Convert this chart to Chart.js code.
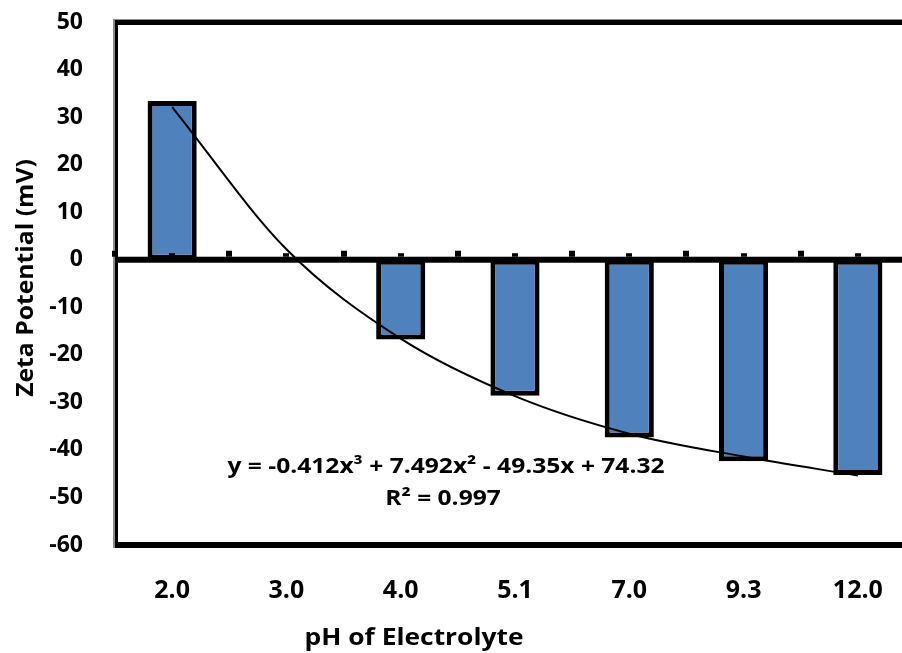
<!DOCTYPE html>
<html><head><meta charset="utf-8">
<script src="https://cdn.jsdelivr.net/npm/chart.js@4.4.1/dist/chart.umd.min.js"></script>
<style>
html,body{margin:0;padding:0;background:#fff;overflow:hidden;width:902px;height:653px;}
#wrap{position:absolute;left:0;top:0;width:916px;height:653px;}
</style></head><body>
<div id="wrap"><canvas id="c"></canvas></div>
<script>
const categories = ['2.0', '3.0', '4.0', '5.1', '7.0', '9.3', '12.0'];
const zetaValues = [33.4, 0, -16.8, -28.6, -37.4, -42.4, -45.3];
const trendValues = [32.1, 2.2, -16.6, -28.7, -36.6, -41.4, -45.4];
const yTicks = [-60, -50, -40, -30, -20, -10, 0, 10, 20, 30, 40, 50];
const yAxisTitle = 'Zeta Potential (mV)';
const xAxisTitle = 'pH of Electrolyte';
const equationLines = ['y = -0.412x³ + 7.492x² - 49.35x + 74.32', 'R² = 0.997'];

const FONT = '"Open Sans", Lato, sans-serif';

function stretchText(ctx, text, x, y, sx, rot) {
  ctx.save();
  ctx.translate(x, y);
  if (rot) ctx.rotate(rot);
  ctx.scale(sx, 1);
  ctx.fillText(text, 0, 0);
  ctx.restore();
}

const decor = {
  id: 'decor',
  afterDatasetsDraw(chart) {
    const { ctx, chartArea: a, scales: { x, y } } = chart;
    ctx.save();
    const W = a.right - a.left;
    // frame: left axis (gray + black), top line, bottom axis
    ctx.fillStyle = '#8c8c8c';
    ctx.fillRect(a.left - 2, a.top - 3, 2, a.bottom - a.top + 6);
    ctx.fillRect(a.left, a.top - 3, W, 1);
    ctx.fillStyle = '#000';
    ctx.fillRect(a.left, a.top - 2, 3, a.bottom - a.top + 5);
    ctx.fillRect(a.left, a.top - 2, W, 5);
    ctx.fillRect(a.left, a.bottom - 3, W, 6);
    // zero line with tick marks
    const y0 = y.getPixelForValue(0);
    ctx.fillRect(a.left, y0 - 3, W, 6);
    const step = x.getPixelForValue(1) - x.getPixelForValue(0);
    for (let i = 0; i <= categories.length * 2; i++) {
      const px = a.left + i * step / 2;
      const h = (i % 2 === 0) ? 6 : 3.5;
      ctx.fillRect(Math.round(px - 3), y0 - 3 - h, 6, h);
    }
    // titles
    ctx.fillStyle = '#000';
    ctx.textAlign = 'center';
    ctx.textBaseline = 'middle';
    ctx.font = 'bold 24px ' + FONT;
    stretchText(ctx, xAxisTitle, 414, 638, 1.1, 0);
    stretchText(ctx, yAxisTitle, 26, 278, 1.03, -Math.PI / 2);
    // trendline equation
    ctx.font = 'bold 21px ' + FONT;
    stretchText(ctx, equationLines[0], 446, 467, 1.17, 0);
    stretchText(ctx, equationLines[1], 443, 499, 1.17, 0);
    ctx.restore();
  }
};

new Chart(document.getElementById('c'), {
  data: {
    labels: categories,
    datasets: [
      {
        type: 'line',
        data: trendValues,
        borderColor: '#000',
        borderWidth: 2,
        pointRadius: 0,
        fill: false,
        cubicInterpolationMode: 'monotone',
        order: 0
      },
      {
        type: 'bar',
        data: zetaValues,
        backgroundColor: '#4f81bd',
        borderColor: '#000',
        borderWidth: 5,
        borderSkipped: false,
        barPercentage: 0.43,
        categoryPercentage: 1,
        order: 1
      }
    ]
  },
  options: {
    responsive: true,
    maintainAspectRatio: false,
    animation: false,
    events: [],
    layout: { padding: { top: 22, right: 1, left: 0, bottom: 0 } },
    plugins: { legend: { display: false }, title: { display: false }, tooltip: { enabled: false } },
    scales: {
      x: {
        offset: true,
        grid: { display: false, drawTicks: false },
        border: { display: false },
        ticks: { color: '#000', font: { family: FONT, size: 25, weight: 'bold' }, padding: 31, maxRotation: 0 },
        afterFit(s) { s.height = 108; }
      },
      y: {
        min: -60, max: 50,
        grid: { display: false, drawTicks: false },
        border: { display: false },
        afterBuildTicks(s) { s.ticks = yTicks.map(v => ({ value: v })); },
        ticks: { color: '#000', font: { family: FONT, size: 23, weight: 'bold' }, padding: 32 },
        afterFit(s) { s.width = 115; s.paddingTop = 0; s.paddingBottom = 0; }
      }
    }
  },
  plugins: [decor]
});
</script>
</body></html>
